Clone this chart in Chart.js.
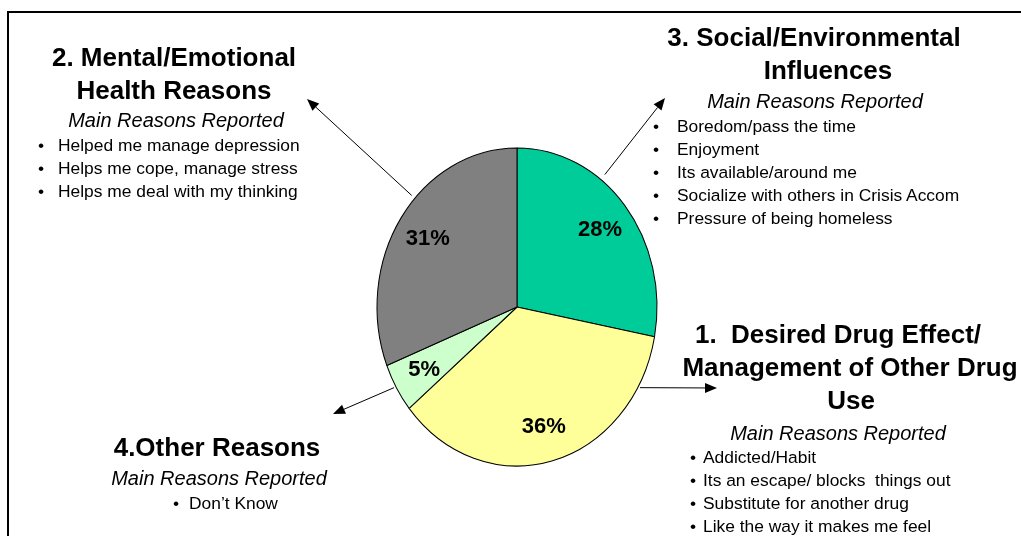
<!DOCTYPE html>
<html>
<head>
<meta charset="utf-8">
<title>Reasons for drug use</title>
<script src="https://cdn.jsdelivr.net/npm/chart.js@4.4.1/dist/chart.umd.min.js"></script>
<style>
  html, body { margin: 0; padding: 0; background: #fff; }
  #wrap {
    position: relative; width: 1021px; height: 536px; overflow: hidden;
    font-family: 'Liberation Sans', Arial, Helvetica, sans-serif; color: #000;
  }
  #frame {
    position: absolute; left: 7px; top: 11px; width: 1100px; height: 600px;
    border-top: 2px solid #000; border-left: 2px solid #000;
  }
  #pieChart { position: absolute; left: 0; top: 0; }
  .note { position: absolute; white-space: nowrap; }
  .centered { transform: translateX(-50%); }
  .head { font-weight: bold; font-size: 26px; line-height: 33px; text-align: center; }
  .sub { font-style: italic; font-size: 20px; line-height: 24px; text-align: center; }
  .list { font-size: 17.4px; line-height: 23px; margin: 0; padding: 0; list-style: none; }
  .list li { position: relative; }
  .list li::before { content: '\2022'; position: absolute; left: var(--bullet, -20px); }
</style>
</head>
<body>
<div id="wrap">
  <div id="frame"></div>
  <canvas id="pieChart" width="1021" height="536"></canvas>

  <!-- 2. Mental/Emotional -->
  <div class="note centered head" style="left:174px; top:41px;">2. Mental/Emotional<br>Health Reasons</div>
  <div class="note centered sub" style="left:176px; top:108px;">Main Reasons Reported</div>
  <ul class="note list" style="left:58px; top:134px; --bullet:-20px;">
    <li>Helped me manage depression</li>
    <li>Helps me cope, manage stress</li>
    <li>Helps me deal with my thinking</li>
  </ul>

  <!-- 3. Social/Environmental -->
  <div class="note centered head" style="left:814px; top:21px;">3. Social/Environmental</div>
  <div class="note centered head" style="left:828px; top:54px;">Influences</div>
  <div class="note centered sub" style="left:815px; top:89px;">Main Reasons Reported</div>
  <ul class="note list" style="left:677px; top:115px; --bullet:-24px;">
    <li>Boredom/pass the time</li>
    <li>Enjoyment</li>
    <li>Its available/around me</li>
    <li>Socialize with others in Crisis Accom</li>
    <li>Pressure of being homeless</li>
  </ul>

  <!-- 1. Desired Drug Effect -->
  <div class="note centered head" style="left:838px; top:318px;">1.&nbsp; Desired Drug Effect/</div>
  <div class="note centered head" style="left:850px; top:351px;">Management of Other Drug</div>
  <div class="note centered head" style="left:851px; top:384px;">Use</div>
  <div class="note centered sub" style="left:838px; top:421px;">Main Reasons Reported</div>
  <ul class="note list" style="left:703px; top:446px; --bullet:-13px;">
    <li>Addicted/Habit</li>
    <li>Its an escape/ blocks&nbsp; things out</li>
    <li>Substitute for another drug</li>
    <li>Like the way it makes me feel</li>
  </ul>

  <!-- 4. Other -->
  <div class="note centered head" style="left:217px; top:431px;">4.Other Reasons</div>
  <div class="note centered sub" style="left:219px; top:466px;">Main Reasons Reported</div>
  <ul class="note list" style="left:189px; top:492px; --bullet:-16px;">
    <li>Don’t Know</li>
  </ul>
</div>

<script>
// slices run clockwise from 12 o'clock
const sliceLabels = [
  '3. Social/Environmental Influences',
  '1. Desired Drug Effect/Management of Other Drug Use',
  '4.Other Reasons',
  '2. Mental/Emotional Health Reasons',
];
const sliceValues = [28, 36, 5, 31];
const sliceColors = ['#00CC99', '#FFFF99', '#CCFFCC', '#808080'];

// pie is drawn squashed into an upright ellipse
const pieStretchY = 1.136;
const pieRadius = 140;

// callout arrows: start angle on the rim (deg clockwise from top), gap off the rim, tip
const arrowAngles = [37, 120, 240, 313];
const arrowGaps = [6, 2, 2, 4];
const arrowTips = [[665, 98], [717, 388], [333, 414], [307, 99]];

const ellipsePie = {
  id: 'ellipsePie',
  beforeDatasetsDraw(chart) {
    const arc = chart.getDatasetMeta(0).data[0];
    const ctx = chart.ctx;
    ctx.save();
    ctx.translate(arc.x, arc.y);
    ctx.scale(1, pieStretchY);
    ctx.translate(-arc.x, -arc.y);
  },
  afterDatasetsDraw(chart) {
    const ctx = chart.ctx;
    ctx.restore();

    // percentage labels
    const meta = chart.getDatasetMeta(0);
    ctx.save();
    ctx.fillStyle = '#000';
    ctx.font = "bold 22px 'Liberation Sans', Arial, sans-serif";
    ctx.textAlign = 'center';
    ctx.textBaseline = 'middle';
    meta.data.forEach((arc, i) => {
      const mid = (arc.startAngle + arc.endAngle) / 2;
      const r = arc.outerRadius * 0.77;
      const x = arc.x + Math.cos(mid) * r;
      const y = arc.y + Math.sin(mid) * r * pieStretchY;
      ctx.fillText(sliceValues[i] + '%', x, y + 1);
    });
    ctx.restore();
  },
  afterDraw(chart) {
    const arc = chart.getDatasetMeta(0).data[0];
    const ctx = chart.ctx;
    ctx.save();
    ctx.strokeStyle = '#000';
    ctx.fillStyle = '#000';
    ctx.lineWidth = 1;
    arrowAngles.forEach((deg, i) => {
      const a = deg * Math.PI / 180;
      const r = arc.outerRadius + arrowGaps[i];
      const x0 = arc.x + Math.sin(a) * r;
      const y0 = arc.y - Math.cos(a) * r * pieStretchY;
      const [x1, y1] = arrowTips[i];
      const ang = Math.atan2(y1 - y0, x1 - x0);
      const headLen = 12;
      const headHalf = 5;
      const bx = x1 - Math.cos(ang) * headLen;
      const by = y1 - Math.sin(ang) * headLen;
      ctx.beginPath();
      ctx.moveTo(x0, y0);
      ctx.lineTo(bx, by);
      ctx.stroke();
      ctx.beginPath();
      ctx.moveTo(x1, y1);
      ctx.lineTo(bx - Math.sin(ang) * headHalf, by + Math.cos(ang) * headHalf);
      ctx.lineTo(bx + Math.sin(ang) * headHalf, by - Math.cos(ang) * headHalf);
      ctx.closePath();
      ctx.fill();
    });
    ctx.restore();
  },
};

new Chart(document.getElementById('pieChart'), {
  type: 'pie',
  data: {
    labels: sliceLabels,
    datasets: [{
      data: sliceValues,
      backgroundColor: sliceColors,
      borderColor: '#000',
      borderWidth: 1,
      radius: pieRadius,
      clip: false,
    }],
  },
  options: {
    responsive: false,
    animation: false,
    events: [],
    layout: {
      padding: { left: 377, right: 364, top: 148, bottom: 70 },
    },
    plugins: {
      legend: { display: false },
      tooltip: { enabled: false },
    },
  },
  plugins: [ellipsePie],
});
</script>
</body>
</html>
